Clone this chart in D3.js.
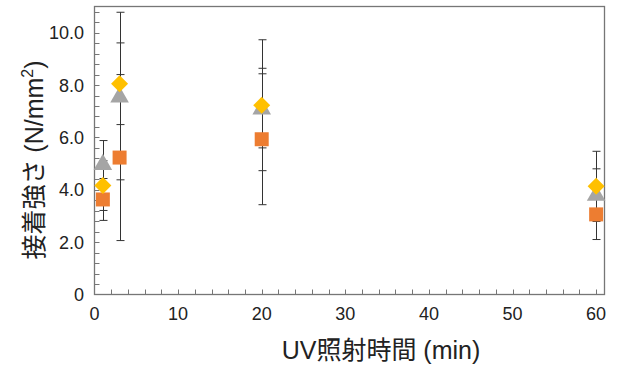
<!DOCTYPE html>
<html><head><meta charset="utf-8">
<script src="https://cdn.jsdelivr.net/npm/d3@7"></script>
<style>body{margin:0;background:#fff;}svg{display:block;}</style>
</head><body>
<svg id="c" width="618" height="369"></svg>
<script>
const xValues = [1, 3, 20, 60];
const squareValues = [3.63, 5.23, 5.93, 3.06];
const squareErrors = [0.80, 3.17, 2.50, 0.96];
const triangleValues = [5.00, 7.58, 7.12, 3.82];
const triangleErrors = [0.88, 3.20, 1.52, 0.98];
const diamondValues = [4.16, 8.05, 7.23, 4.13];
const diamondErrors = [0.95, 1.56, 2.50, 1.34];
const xTickLabels = [0, 10, 20, 30, 40, 50, 60];
const yTickLabels = ["0", "2.0", "4.0", "6.0", "8.0", "10.0"];

const svg = d3.select("#c");
const L = 94.5, R = 604.5, T = 6.5, B = 294.5;
const x = d3.scaleLinear().domain([0, 61]).range([L, R]);
const y = d3.scaleLinear().domain([0, 11]).range([B, T]);
const axisColor = "#767676";
const font = "'Liberation Sans', Arial, sans-serif";
const titleFont = "'Liberation Sans', Arial, 'Noto Sans CJK JP', sans-serif";

// minor ticks
const g = svg.append("g");
const yMinor = d3.range(0.4, 11, 0.4);
g.selectAll(".ym").data(yMinor).enter().append("line")
  .attr("x1", L).attr("x2", L + 5)
  .attr("y1", d => Math.round(y(d)) + 0.5).attr("y2", d => Math.round(y(d)) + 0.5)
  .attr("stroke", axisColor).attr("stroke-width", 1);
const xMinor = d3.range(2, 61, 2);
g.selectAll(".xm").data(xMinor).enter().append("line")
  .attr("x1", d => Math.round(x(d)) + 0.5).attr("x2", d => Math.round(x(d)) + 0.5)
  .attr("y1", B).attr("y2", B - 5)
  .attr("stroke", axisColor).attr("stroke-width", 1);

// frame
svg.append("rect").attr("x", L).attr("y", T).attr("width", R - L).attr("height", B - T)
  .attr("fill", "none").attr("stroke", axisColor).attr("stroke-width", 1.3);

// tick labels
svg.selectAll(".xl").data(xTickLabels).enter().append("text")
  .attr("x", d => x(d)).attr("y", 320).attr("text-anchor", "middle")
  .attr("font-family", font).attr("font-size", 18).attr("fill", "#222").text(d => d);
svg.selectAll(".yl").data(yTickLabels).enter().append("text")
  .attr("x", 84).attr("y", (d, i) => y(i * 2) + 6.5).attr("text-anchor", "end")
  .attr("font-family", font).attr("font-size", 18).attr("fill", "#222").text(d => d);

// axis titles
svg.append("text").attr("x", 381).attr("y", 359).attr("text-anchor", "middle")
  .attr("font-family", titleFont).attr("font-size", 25).attr("fill", "#222")
  .text("UV照射時間 (min)");
const yt = svg.append("text").attr("transform", "translate(43,160) rotate(-90)")
  .attr("text-anchor", "middle")
  .attr("font-family", titleFont).attr("font-size", 25)
  .attr("fill", "#222");
yt.append("tspan").text("接着強さ (N/mm");
yt.append("tspan").attr("font-size", 16).attr("dy", -10).text("2");
yt.append("tspan").attr("dy", 10).text(")");

const series = [
  {vals: squareValues, errs: squareErrors, color: "#ED7D31", shape: "square"},
  {vals: triangleValues, errs: triangleErrors, color: "#A5A5A5", shape: "triangle"},
  {vals: diamondValues, errs: diamondErrors, color: "#FFC000", shape: "diamond"}
];

// error bars
const eb = svg.append("g").attr("stroke", "#333").attr("stroke-width", 1);
series.forEach(s => {
  xValues.forEach((xv, i) => {
    const cx = Math.round(x(xv)) + 0.5;
    const top = y(s.vals[i] + s.errs[i]), bot = y(s.vals[i] - s.errs[i]);
    eb.append("line").attr("x1", cx).attr("x2", cx).attr("y1", top).attr("y2", bot);
    eb.append("line").attr("x1", cx - 4).attr("x2", cx + 4).attr("y1", top).attr("y2", top);
    eb.append("line").attr("x1", cx - 4).attr("x2", cx + 4).attr("y1", bot).attr("y2", bot);
  });
});

// markers
const shapes = {
  square: d3.symbol().type(d3.symbolSquare).size(196),
  triangle: d3.symbol().type(d3.symbolTriangle).size(150)
};
const diamondPath = (() => {
  const p = d3.path(); const r = 8.5;
  p.moveTo(0, -r); p.lineTo(r, 0); p.lineTo(0, r); p.lineTo(-r, 0); p.closePath();
  return p.toString(); })();
series.forEach(s => {
  svg.append("g").selectAll("path").data(xValues).enter().append("path")
    .attr("d", s.shape === "diamond" ? diamondPath : shapes[s.shape]())
    .attr("transform", (d, i) => `translate(${x(d)},${y(s.vals[i]) + (s.shape === "triangle" ? 1 : 0)})`)
    .attr("fill", s.color);
});
</script>
</body></html>
